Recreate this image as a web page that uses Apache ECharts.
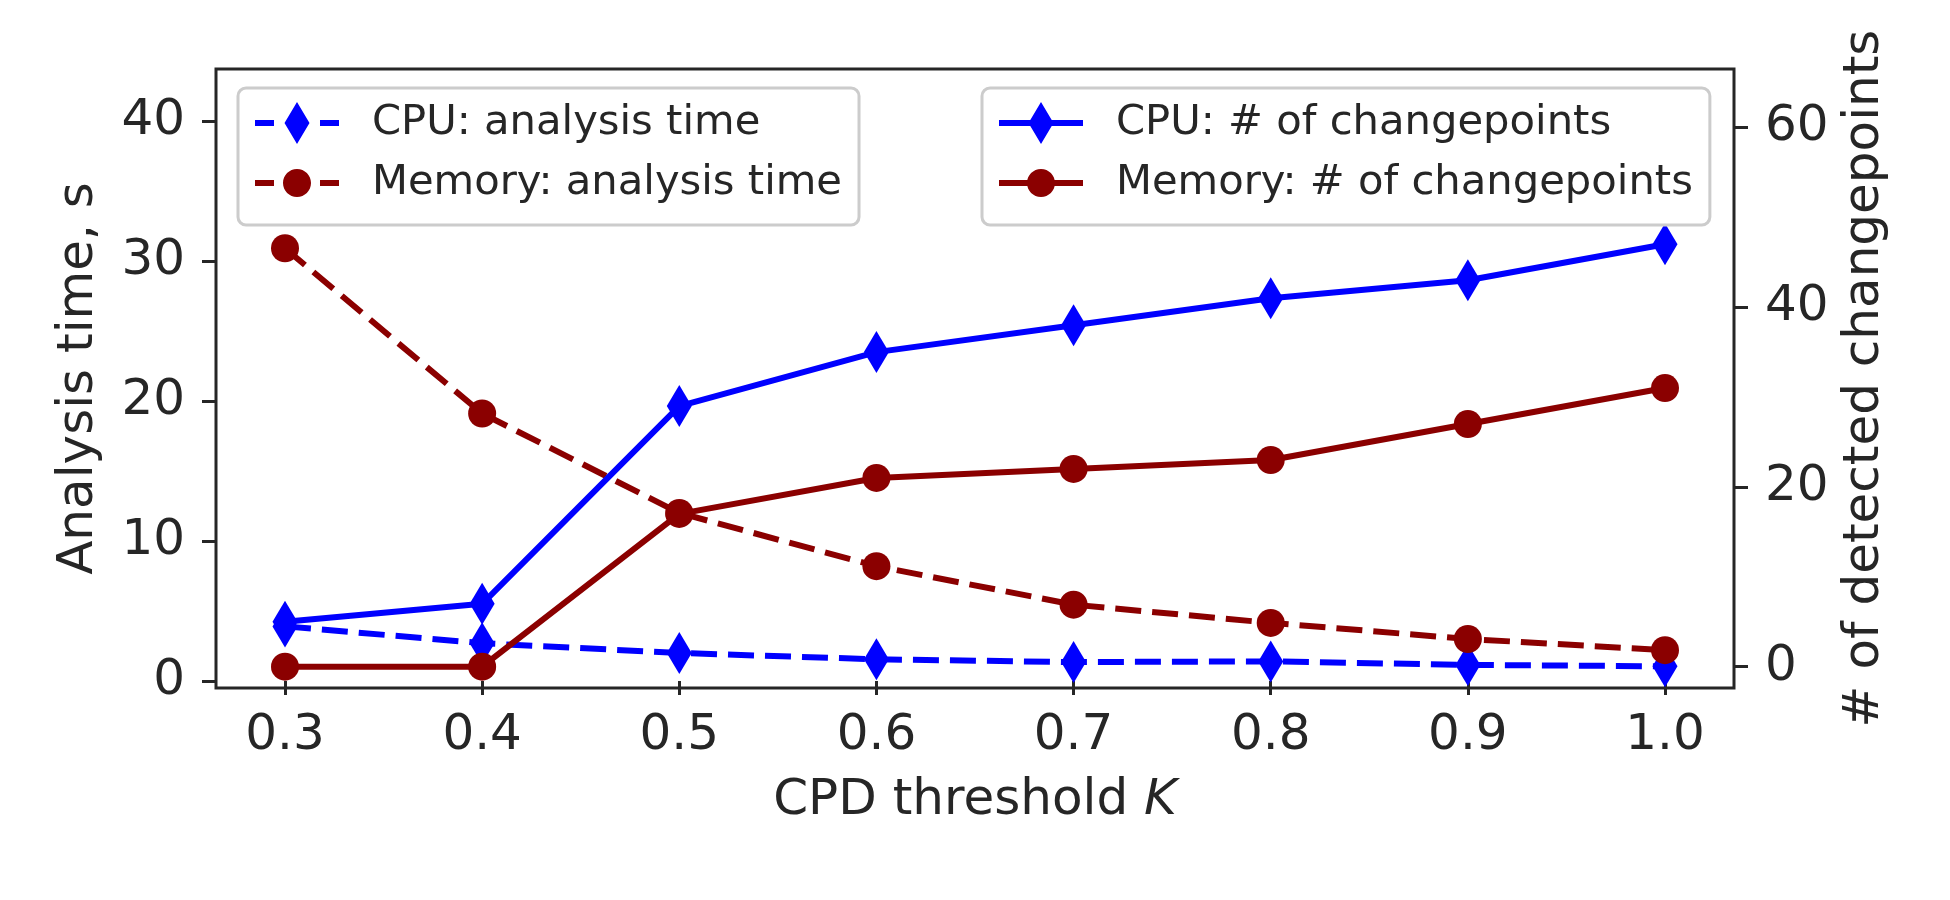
<!DOCTYPE html>
<html>
<head>
<meta charset="utf-8">
<script src="https://cdn.jsdelivr.net/npm/echarts@6/dist/echarts.min.js"></script>
<style>
  html, body { margin: 0; background: #fff; }
  #chart { width: 1950px; height: 900px; }
</style>
</head>
<body>
<div id="chart"></div>
<script>
// CPD threshold K
const thresholds = [0.3, 0.4, 0.5, 0.6, 0.7, 0.8, 0.9, 1.0];
// analysis time, s (left axis)
const cpuTime = [3.9, 2.7, 2.0, 1.55, 1.35, 1.4, 1.15, 1.05];
const memTime = [30.9, 19.1, 12.0, 8.2, 5.45, 4.15, 3.0, 2.2];
// # of detected changepoints (right axis)
const cpuPoints = [5, 7, 29, 35, 38, 41, 43, 47];
const memPoints = [0, 0, 17, 21, 22, 23, 27, 31];

const xTicks = [0.3, 0.4, 0.5, 0.6, 0.7, 0.8, 0.9, 1.0];
const leftTicks = [0, 10, 20, 30, 40];
const rightTicks = [0, 20, 40, 60];

const INK = '#262626';
const FONT = 'DejaVu Sans';
const BLUE = '#0000ff';
const RED = '#8b0000';

const pairs = ys => thresholds.map((x, i) => [x, ys[i]]);

// legend handles drawn like matplotlib: line + marker, in an 84x42 box
const TINY = 'M0 0h0.01v0.01h-0.01z M0 41.99h0.01v0.01h-0.01z ';
const DIAMOND = 'M42 0L54.5 21L42 42L29.5 21Z';
const CIRCLE = 'M28 21C28 13.27 34.27 7 42 7C49.73 7 56 13.27 56 21C56 28.73 49.73 35 42 35C34.27 35 28 28.73 28 21Z';
const DASHES = 'M0 18h19v6h-19z M65 18h19v6h-19z ';
const SOLID = 'M0 18h84v6h-84z ';

const legendBase = {
  orient: 'vertical',
  itemWidth: 84,
  itemHeight: 42,
  itemGap: 18,
  selectedMode: false,
  backgroundColor: 'rgba(255,255,255,0.8)',
  borderColor: '#cccccc',
  borderWidth: 3,
  borderRadius: 8,
  padding: [14, 17, 21, 17],
  textStyle: { fontFamily: FONT, fontSize: 41.7, color: INK, padding: [0, 0, 0, 28] }
};

const chart = echarts.init(document.getElementById('chart'));

chart.setOption({
  animation: false,
  backgroundColor: '#ffffff',
  textStyle: { fontFamily: FONT },
  grid: {
    left: 216, right: 216, top: 69, bottom: 212,
    show: true, borderColor: INK, borderWidth: 3, backgroundColor: 'transparent'
  },
  legend: [
    Object.assign({}, legendBase, {
      left: 238, top: 88,
      data: [
        { name: 'CPU: analysis time', icon: 'path://' + TINY + DASHES + DIAMOND },
        { name: 'Memory: analysis time', icon: 'path://' + TINY + DASHES + CIRCLE }
      ]
    }),
    Object.assign({}, legendBase, {
      left: 982, top: 88,
      data: [
        { name: 'CPU: # of changepoints', icon: 'path://' + TINY + SOLID + DIAMOND },
        { name: 'Memory: # of changepoints', icon: 'path://' + TINY + SOLID + CIRCLE }
      ]
    })
  ],
  xAxis: {
    type: 'value',
    min: 0.265, max: 1.035,
    name: 'CPD threshold {i|K}',
    nameLocation: 'middle',
    nameGap: 88,
    nameTextStyle: { fontSize: 50, color: INK, fontFamily: FONT, rich: { i: { fontStyle: 'italic', fontSize: 50, color: INK, fontFamily: FONT } } },
    axisLine: { show: false },
    axisTick: { show: true, length: 14, lineStyle: { color: INK, width: 3 }, customValues: xTicks },
    axisLabel: { fontSize: 50, color: INK, margin: 23, customValues: xTicks, formatter: v => v.toFixed(1) },
    splitLine: { show: false }
  },
  yAxis: [
    {
      type: 'value', position: 'left',
      min: -0.5, max: 43.7,
      name: 'Analysis time, s',
      nameLocation: 'middle',
      nameGap: 112,
      nameTextStyle: { fontSize: 50, color: INK, fontFamily: FONT },
      axisLine: { show: false },
      axisTick: { show: true, length: 14, lineStyle: { color: INK, width: 3 }, customValues: leftTicks },
      axisLabel: { fontSize: 50, color: INK, margin: 31, customValues: leftTicks },
      splitLine: { show: false }
    },
    {
      type: 'value', position: 'right',
      min: -2.37, max: 66.5,
      name: '# of detected changepoints',
      nameLocation: 'middle',
      nameGap: 102,
      nameTextStyle: { fontSize: 50, color: INK, fontFamily: FONT },
      axisLine: { show: false },
      axisTick: { show: true, length: 14, lineStyle: { color: INK, width: 3 }, customValues: rightTicks },
      axisLabel: { fontSize: 50, color: INK, margin: 31, customValues: rightTicks },
      splitLine: { show: false }
    }
  ],
  series: [
    {
      name: 'CPU: analysis time', type: 'line', yAxisIndex: 0,
      data: pairs(cpuTime),
      symbol: 'diamond', symbolSize: [25, 42],
      color: BLUE,
      lineStyle: { width: 6, type: [26, 11], color: BLUE },
      itemStyle: { color: BLUE }
    },
    {
      name: 'Memory: analysis time', type: 'line', yAxisIndex: 0,
      data: pairs(memTime),
      symbol: 'circle', symbolSize: 28,
      color: RED,
      lineStyle: { width: 6, type: [26, 11], color: RED },
      itemStyle: { color: RED }
    },
    {
      name: 'CPU: # of changepoints', type: 'line', yAxisIndex: 1,
      data: pairs(cpuPoints),
      symbol: 'diamond', symbolSize: [25, 42],
      color: BLUE,
      lineStyle: { width: 6, color: BLUE },
      itemStyle: { color: BLUE }
    },
    {
      name: 'Memory: # of changepoints', type: 'line', yAxisIndex: 1,
      data: pairs(memPoints),
      symbol: 'circle', symbolSize: 28,
      color: RED,
      lineStyle: { width: 6, color: RED },
      itemStyle: { color: RED }
    }
  ]
});
</script>
</body>
</html>
